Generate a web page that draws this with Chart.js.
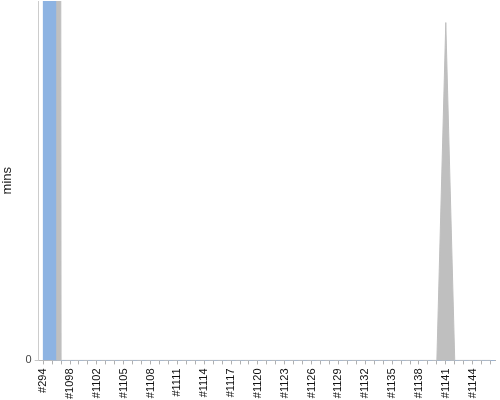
<!DOCTYPE html>
<html>
<head>
<meta charset="utf-8">
<script src="https://cdn.jsdelivr.net/npm/chart.js@4.4.1/dist/chart.umd.min.js"></script>
<style>
  html, body { margin: 0; padding: 0; background: #fff; }
  #wrap { width: 500px; height: 400px; position: relative; }
</style>
</head>
<body>
<div id="wrap"><canvas id="builds"></canvas></div>
<script>
// build ids along the x axis
const builds = ["#294", "#1096", "#1097", "#1098", "#1099", "#1101", "#1102", "#1103", "#1104", "#1105",
  "#1106", "#1107", "#1108", "#1109", "#1110", "#1111", "#1112", "#1113", "#1114", "#1115",
  "#1116", "#1117", "#1118", "#1119", "#1120", "#1121", "#1122", "#1123", "#1124", "#1125",
  "#1126", "#1127", "#1128", "#1129", "#1130", "#1131", "#1132", "#1133", "#1134", "#1135",
  "#1136", "#1137", "#1138", "#1139", "#1140", "#1141", "#1142", "#1143", "#1144", "#1145", "#1146"]

// minutes waiting in queue (nothing visible)
const waitMins = [0, 0, 0, 0, 0, 0, 0, 0, 0, 0,  0, 0, 0, 0, 0, 0, 0, 0, 0, 0,
  0, 0, 0, 0, 0, 0, 0, 0, 0, 0,  0, 0, 0, 0, 0, 0, 0, 0, 0, 0,  0, 0, 0, 0, 0, 0, 0, 0, 0, 0, 0]

// minutes of the run itself (blue bar, goes off the top)
const runMins = [2400, 0, 0, 0, 0, 0, 0, 0, 0, 0,  0, 0, 0, 0, 0, 0, 0, 0, 0, 0,
  0, 0, 0, 0, 0, 0, 0, 0, 0, 0,  0, 0, 0, 0, 0, 0, 0, 0, 0, 0,  0, 0, 0, 0, 0, 0, 0, 0, 0, 0, 0]

// total build minutes (grey area)
const buildMins = [3200, 3000, 0, 0, 0, 0, 0, 0, 0, 0,  0, 0, 0, 0, 0, 0, 0, 0, 0, 0,
  0, 0, 0, 0, 0, 0, 0, 0, 0, 0,  0, 0, 0, 0, 0, 0, 0, 0, 0, 0,  0, 0, 0, 0, 0, 94, 0, 0, 0, 0, 0]

const yMax = 100

const font = "'Liberation Sans', Arial, sans-serif"

new Chart(document.getElementById("builds"), {
    data: {
        labels: builds,
        datasets: [
            {
                type: "bar",
                data: waitMins,
                backgroundColor: "#bfbfbf",
                borderWidth: 0,
                barThickness: 12.7,
                order: 0
            },
            {
                type: "bar",
                data: runMins,
                backgroundColor: "#8db3e2",
                borderWidth: 0,
                barThickness: 12.7,
                order: 0
            },
            {
                type: "line",
                data: buildMins,
                fill: "origin",
                backgroundColor: "#bfbfbf",
                borderColor: "#bfbfbf",
                borderWidth: 1,
                pointRadius: 0,
                tension: 0,
                order: 1
            }
        ]
    },
    options: {
        responsive: true,
        maintainAspectRatio: false,
        animation: false,
        layout: { padding: { top: 1, right: 5, left: 0, bottom: -3 } },
        plugins: {
            legend: { display: false },
            tooltip: { enabled: false }
        },
        scales: {
            x: {
                offset: true,
                // the empty last label should not push the plot inwards
                afterFit: (s) => { s.paddingRight = 0 },
                grid: {
                    offset: false,
                    drawOnChartArea: false,
                    tickLength: 4,
                    color: "#b0b0b0"
                },
                border: { color: "#b0b0b0" },
                ticks: {
                    autoSkip: false,
                    maxRotation: 90,
                    minRotation: 90,
                    padding: 4,
                    color: "#111",
                    font: { family: font, size: 11 },
                    callback: (v, i) => (i % 3 == 0 ? builds[i] : "")
                }
            },
            y: {
                min: 0,
                max: yMax,
                afterBuildTicks: (axis) => { axis.ticks = [{ value: 0 }] },
                afterFit: (s) => { s.paddingTop = 0 },
                grid: {
                    drawOnChartArea: false,
                    tickLength: 4,
                    color: "#c8c8c8"
                },
                border: { color: "#cccccc" },
                ticks: {
                    padding: 3,
                    color: "#444",
                    font: { family: font, size: 11 }
                },
                title: {
                    display: true,
                    text: "mins",
                    color: "#222",
                    padding: { top: 0, bottom: 7 },
                    font: { family: font, size: 13 }
                }
            }
        }
    }
})
</script>
</body>
</html>
